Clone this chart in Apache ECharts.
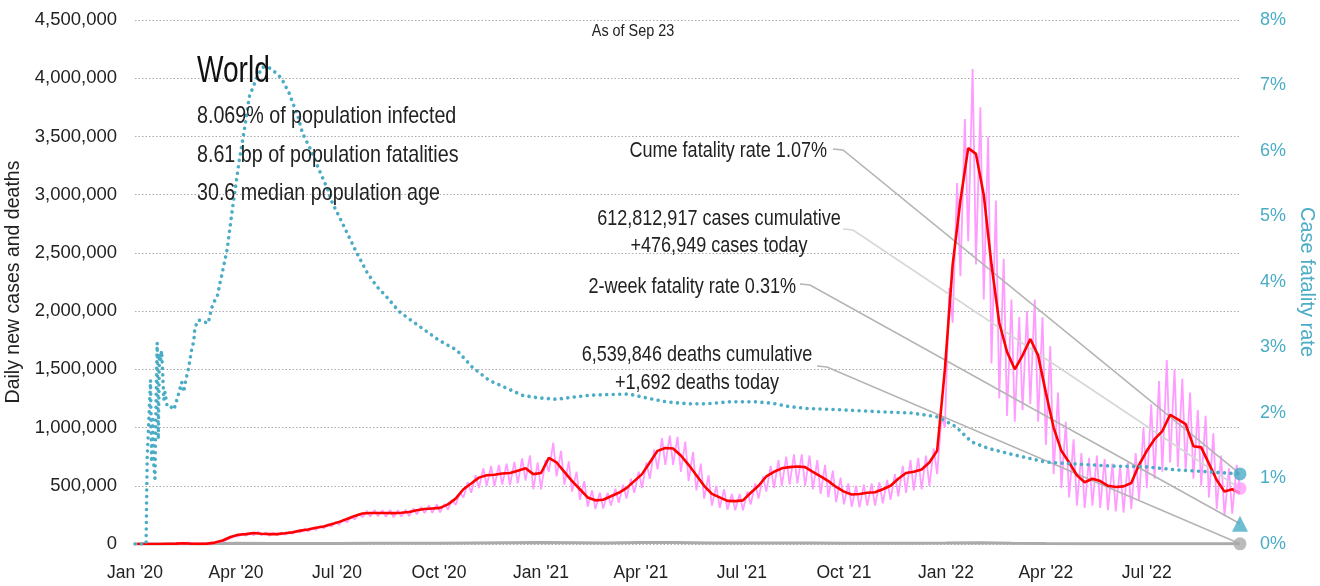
<!DOCTYPE html>
<html>
<head>
<meta charset="utf-8">
<script src="https://cdn.jsdelivr.net/npm/echarts@6/dist/echarts.min.js"></script>
<style>
  html, body { margin: 0; padding: 0; background: #fff; }
  #chart { width: 1320px; height: 586px; }
</style>
</head>
<body>
<div id="chart"></div>
<script>
// x values are days since Jan 1 2020
var lastDay = 996; // Sep 23 2022
var weekStart = 2; // Jan 3 2020, first weekly point
var tickDays = [0, 91, 182, 274, 366, 456, 547, 639, 731, 821, 912];
var tickLabels = ["Jan '20", "Apr '20", "Jul '20", "Oct '20", "Jan '21", "Apr '21", "Jul '21", "Oct '21", "Jan '22", "Apr '22", "Jul '22"];

// 7-day average new cases, one value per week, in thousands
var casesAvg = [
  0, 0, 0.1, 0.5, 2, 3, 6, 2.5, 1.5, 3,
  12, 30, 60, 80, 85, 95, 88, 85, 85, 92,
  100, 115, 125, 140, 150, 170, 190, 215, 240, 262,
  266, 266, 266, 265, 268, 275, 290, 300, 305, 310,
  340, 390, 470, 520, 570, 590, 595, 605, 610, 630,
  650, 600, 610, 740, 700, 620, 540, 470, 400, 375,
  380, 410, 440, 480, 540, 600, 700, 800, 825, 820,
  760, 680, 590, 500, 430, 400, 370, 368, 375, 440,
  500, 580, 620, 650, 660, 665, 660, 620, 580, 540,
  490, 450, 425, 430, 440, 445, 470, 500, 560, 610,
  620, 640, 700, 800, 1500, 2400, 2950, 3400, 3350, 3000,
  2400, 1900, 1650, 1500, 1620, 1760, 1620, 1300, 1000, 800,
  700, 590, 530, 560, 540, 500, 490, 495, 524, 680,
  800, 900, 970, 1110, 1070, 1030, 840, 830, 690, 550,
  450, 470, 438
];

// daily new cases, weekly low (start of week) and high (mid week), in thousands
var casesLow = [
  0, 0, 0, 0.3, 1.5, 2.5, 2, 2, 1, 2,
  8, 22, 50, 65, 70, 75, 75, 72, 75, 80,
  88, 100, 108, 120, 135, 150, 165, 185, 210, 230,
  235, 238, 235, 230, 235, 240, 255, 265, 268, 272,
  295, 335, 400, 440, 480, 500, 495, 510, 505, 520,
  545, 470, 470, 620, 580, 510, 450, 380, 320, 300,
  305, 330, 355, 390, 440, 480, 560, 640, 680, 680,
  620, 540, 460, 390, 330, 310, 295, 290, 290, 340,
  390, 450, 480, 500, 510, 520, 500, 470, 430, 400,
  360, 340, 320, 315, 330, 330, 350, 380, 410, 440,
  460, 470, 500, 600, 1000, 1900, 2300, 2600, 2400, 2100,
  1550, 1250, 1100, 1050, 1150, 1200, 1050, 850, 600, 480,
  400, 330, 310, 330, 310, 290, 280, 270, 300, 380,
  480, 560, 620, 700, 660, 620, 560, 500, 400, 300,
  240, 260, 476.949
];
var casesHigh = [
  0, 0, 0.2, 1, 3, 4, 15, 3, 2, 5,
  16, 38, 68, 90, 95, 105, 100, 95, 98, 102,
  112, 128, 140, 155, 170, 190, 212, 238, 262, 285,
  292, 290, 292, 290, 295, 305, 318, 330, 340, 345,
  380, 440, 530, 590, 650, 670, 680, 690, 705, 735,
  760, 700, 720, 870, 800, 710, 620, 540, 460, 440,
  440, 475, 510, 560, 620, 700, 810, 910, 930, 920,
  880, 790, 690, 590, 500, 470, 430, 430, 450, 520,
  580, 670, 720, 750, 770, 770, 760, 720, 680, 630,
  570, 520, 500, 510, 520, 530, 550, 600, 670, 720,
  740, 760, 820, 1100, 2200, 3100, 3650, 4080, 3750, 3500,
  2950, 2450, 2100, 1950, 2000, 2100, 1950, 1700, 1300, 1050,
  900, 780, 740, 760, 730, 690, 670, 700, 780, 1000,
  1200, 1400, 1580, 1500, 1420, 1300, 1150, 1100, 950, 760,
  650, 680
];

// daily new deaths [day, deaths]
var deathsPoints = [
  [0, 0], [30, 100], [60, 300], [91, 6000], [121, 5000], [152, 4000], [182, 5000],
  [213, 5800], [244, 5500], [274, 6000], [305, 9000], [335, 11500], [366, 13500],
  [397, 11000], [425, 8500], [456, 12000], [486, 12500], [517, 9000], [547, 8000],
  [578, 9500], [609, 9500], [639, 7500], [670, 7000], [700, 7000], [731, 8000],
  [762, 11000], [790, 7000], [821, 3500], [851, 2500], [882, 2000], [912, 2500],
  [943, 2300], [974, 1800], [996, 1692]
];

// cumulative case fatality rate [day, %]
var cfrPoints = [
  [0, 0], [10, 0], [11, 1.33], [12, 1.3], [13, 2.1], [14, 2.5], [15, 1.25], [16, 1.9],
  [17, 1.2], [18, 1.0], [19, 2.2], [20, 3.07], [21, 1.6], [22, 2.9], [23, 2.8], [24, 2.95],
  [25, 2.6], [26, 2.2], [27, 2.32], [29, 2.1], [32, 2.1], [35, 2.05], [39, 2.27], [42, 2.47],
  [44, 2.32], [45, 2.44], [48, 2.66], [51, 2.96], [53, 3.1], [54, 3.3], [57, 3.42], [61, 3.4],
  [66, 3.37], [69, 3.6], [72, 3.72], [74, 3.77], [83, 4.49], [88, 5.14], [94, 5.86],
  [99, 6.37], [103, 6.83], [110, 7.13], [115, 7.28], [120, 7.28], [124, 7.24], [132, 7.11],
  [139, 6.88], [147, 6.52], [151, 6.27], [159, 6.0], [166, 5.71], [174, 5.4], [178, 5.2],
  [184, 5.0], [192, 4.72], [200, 4.44], [209, 4.15], [218, 3.93], [227, 3.77], [238, 3.55],
  [250, 3.4], [265, 3.22], [274, 3.11], [290, 2.96], [304, 2.7], [319, 2.5], [335, 2.38],
  [349, 2.27], [364, 2.23], [380, 2.21], [394, 2.24], [409, 2.27], [425, 2.28], [445, 2.29],
  [461, 2.23], [479, 2.17], [499, 2.14], [515, 2.14], [535, 2.17], [560, 2.17], [574, 2.15],
  [589, 2.1], [605, 2.07], [634, 2.05], [670, 2.02], [700, 2.0], [724, 1.94], [740, 1.79],
  [754, 1.56], [769, 1.46], [790, 1.37], [821, 1.25], [850, 1.22], [880, 1.19], [910, 1.18],
  [940, 1.13], [970, 1.1], [996, 1.07]
];

// latest values
var cfrNow = 1.07;
var cfr2wk = 0.31;
var casesToday = 476949;
var deathsToday = 1692;

var FONT = "'Liberation Sans', Arial, sans-serif";
var TEAL = "#4bacc6";
var PINK = "#ff9cff";

var avgData = casesAvg.map(function (v, k) { return [weekStart + 7 * k, v * 1000]; });
var dailyData = [];
for (var k = 0; k < casesLow.length; k++) {
  dailyData.push([weekStart + 7 * k, casesLow[k] * 1000]);
  if (k < casesHigh.length) dailyData.push([weekStart + 7 * k + 4, casesHigh[k] * 1000]);
}

var chart = echarts.init(document.getElementById("chart"));

var option = {
  animation: false,
  backgroundColor: "#fff",
  textStyle: { fontFamily: FONT },
  grid: { left: 135, right: 80, top: 20, bottom: 42, containLabel: false, outerBoundsMode: "none" },
  xAxis: {
    type: "value",
    min: 0,
    max: lastDay,
    axisLine: { show: false },
    axisTick: { show: false },
    splitLine: { show: false },
    axisLabel: {
      customValues: tickDays,
      margin: 20,
      fontSize: 17.5,
      color: "#222",
      fontFamily: FONT,
      formatter: function (v) {
        var i = tickDays.indexOf(v);
        return i >= 0 ? tickLabels[i] : "";
      }
    }
  },
  yAxis: [
    {
      type: "value",
      min: 0,
      max: 4500000,
      interval: 500000,
      name: "Daily new cases and deaths",
      nameLocation: "middle",
      nameGap: 103,
      nameRotate: 90,
      nameTextStyle: { fontSize: 19.5, color: "#222", fontFamily: FONT },
      axisLine: { show: false },
      axisTick: { show: false },
      axisLabel: {
        margin: 18,
        fontSize: 18.5,
        color: "#222",
        fontFamily: FONT,
        formatter: function (v) { return v.toLocaleString("en-US"); }
      },
      splitLine: { lineStyle: { color: "#aaa", width: 1.2, type: [1.5, 2] } }
    },
    {
      type: "value",
      min: 0,
      max: 8,
      interval: 1,
      name: "Case fatality rate",
      nameLocation: "middle",
      nameGap: 47,
      nameRotate: -90,
      nameTextStyle: { fontSize: 20, color: TEAL, fontFamily: FONT },
      axisLine: { show: false },
      axisTick: { show: false },
      splitLine: { show: false },
      axisLabel: {
        margin: 20,
        fontSize: 18,
        color: TEAL,
        fontFamily: FONT,
        formatter: "{value}%"
      }
    }
  ],
  series: [
    {
      name: "Deaths",
      type: "line",
      data: deathsPoints,
      showSymbol: false,
      z: 1,
      lineStyle: { color: "#aaa", width: 3 }
    },
    {
      name: "Daily cases",
      type: "line",
      data: dailyData,
      showSymbol: false,
      z: 2,
      lineStyle: { color: PINK, width: 1.8 }
    },
    {
      name: "Cases 7-day avg",
      type: "line",
      data: avgData,
      showSymbol: false,
      z: 4,
      lineStyle: { color: "#ff0000", width: 2.6 }
    },
    {
      name: "Case fatality rate",
      type: "line",
      yAxisIndex: 1,
      data: cfrPoints,
      showSymbol: false,
      z: 5,
      lineStyle: { color: TEAL, width: 3.6, type: [0.01, 6.5], cap: "round" }
    },
    {
      name: "cfrNow",
      type: "scatter",
      yAxisIndex: 1,
      data: [[lastDay, cfrNow]],
      symbol: "circle",
      symbolSize: 13,
      clip: false,
      z: 6,
      itemStyle: { color: TEAL }
    },
    {
      name: "cfr2wk",
      type: "scatter",
      yAxisIndex: 1,
      data: [[lastDay, cfr2wk]],
      symbol: "triangle",
      symbolSize: 16,
      clip: false,
      z: 6,
      itemStyle: { color: TEAL }
    },
    {
      name: "casesToday",
      type: "scatter",
      data: [[lastDay, casesToday]],
      symbol: "circle",
      symbolSize: 13,
      clip: false,
      z: 6,
      itemStyle: { color: PINK }
    },
    {
      name: "deathsToday",
      type: "scatter",
      data: [[lastDay, deathsToday]],
      symbol: "circle",
      symbolSize: 13,
      clip: false,
      z: 6,
      itemStyle: { color: "#aaa" }
    }
  ]
};

chart.setOption(option);

/* -- titles and leader lines to the latest values -- */
// narrow look: Liberation Sans squeezed horizontally
function txt(s, x, y, size, align, color, sx) {
  return {
    type: "text",
    z: 10,
    x: x,
    y: y,
    scaleX: sx || 0.82,
    style: {
      text: s, x: 0, y: 0,
      fill: color || "#222",
      font: size + "px " + FONT,
      textAlign: align || "left",
      textVerticalAlign: "middle"
    }
  };
}
function leader(x0, y0, seriesIndex, pt, color) {
  var p = chart.convertToPixel({ seriesIndex: seriesIndex }, pt);
  return {
    type: "polyline",
    z: 3,
    shape: { points: [[x0, y0], [x0 + 10, y0 + 1], p] },
    style: { stroke: color, lineWidth: 1.6, fill: null }
  };
}

chart.setOption({
  graphic: [
    txt("As of Sep 23", 633, 32, 16, "center", "#222", 0.9),
    txt("World", 197, 72, 36, "left", "#111", 0.78),
    txt("8.069% of population infected", 197, 116, 24),
    txt("8.61 bp of population fatalities", 197, 155, 24),
    txt("30.6 median population age", 197, 193, 24),
    txt("Cume fatality rate 1.07%", 827, 151, 22, "right"),
    txt("612,812,917 cases cumulative", 719, 219, 22, "center"),
    txt("+476,949 cases today", 719, 246, 22, "center"),
    txt("2-week fatality rate 0.31%", 796, 287, 22, "right"),
    txt("6,539,846 deaths cumulative", 697, 355, 22, "center"),
    txt("+1,692 deaths today", 697, 383, 22, "center"),
    leader(833, 149, 4, [lastDay, cfrNow], "#b4b4b4"),
    leader(843, 229, 6, [lastDay, casesToday], "#d6d6d6"),
    leader(800, 284, 5, [lastDay, cfr2wk], "#b4b4b4"),
    leader(817, 366, 7, [lastDay, deathsToday], "#b4b4b4")
  ]
});
</script>
</body>
</html>
